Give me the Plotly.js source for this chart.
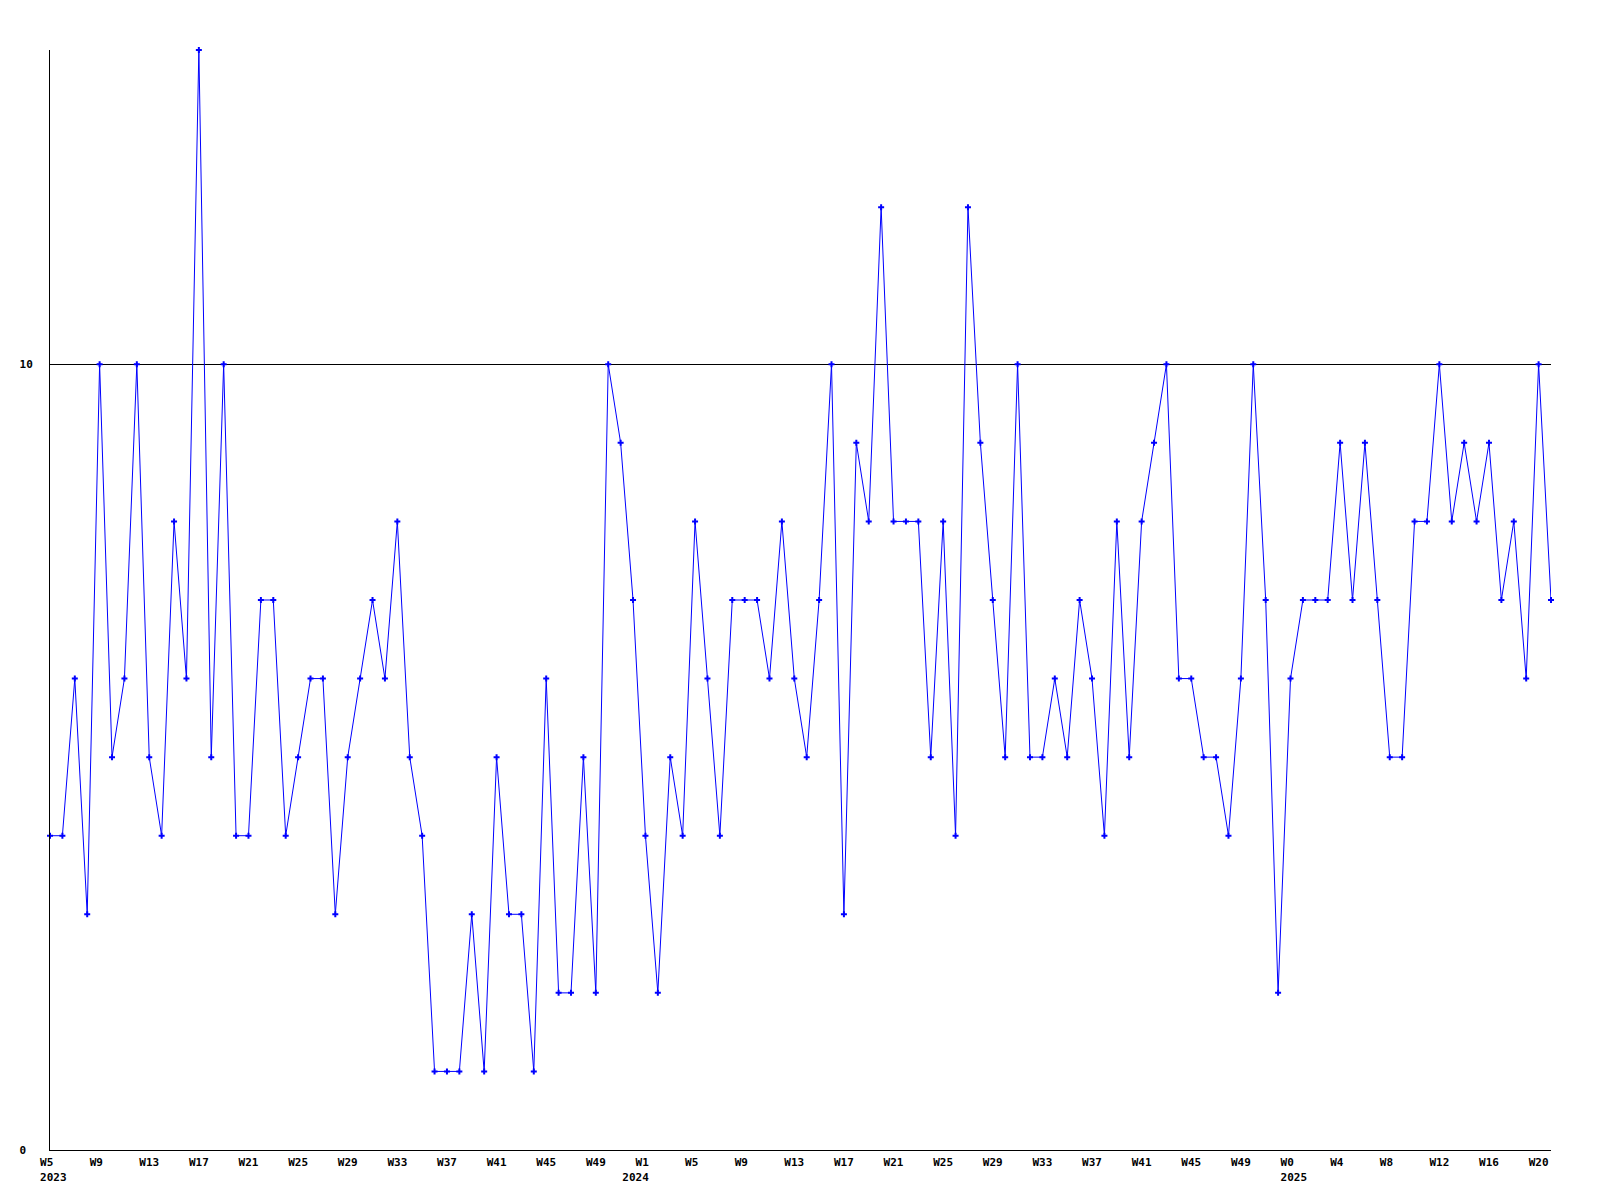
<!DOCTYPE html>
<html>
<head>
<meta charset="utf-8">
<script src="https://cdn.plot.ly/plotly-3.0.1.min.js"></script>
<style>html,body{margin:0;padding:0;background:#fff;}#chart{width:1600px;height:1200px;}</style>
</head>
<body>
<div id="chart"></div>
<script>
// Years and their week numbers
const years = [2023, 2024, 2025];
const weeks2023 = [5,6,7,8,9,10,11,12,13,14,15,16,17,18,19,20,21,22,23,24,25,26,27,28,29,30,31,32,33,34,35,36,37,38,39,40,41,42,43,44,45,46,47,48,49,50,51,52];
const weeks2024 = [1,2,3,4,5,6,7,8,9,10,11,12,13,14,15,16,17,18,19,20,21,22,23,24,25,26,27,28,29,30,31,32,33,34,35,36,37,38,39,40,41,42,43,44,45,46,47,48,49,50,51,52];
const weeks2025 = [0,1,2,3,4,5,6,7,8,9,10,11,12,13,14,15,16,17,18,19,20,21];

// Weekly values
const values2023 = [4,4,6,3,10,5,6,10,5,4, 8,6,14,5,10,4,4,7,7,4, 5,6,6,3,5,6,7,6,8,5, 4,1,1,1,3,1,5,3,3,1, 6,2,2,5,2,10,9,7];
const values2024 = [4,2,5,4,8,6,4,7,7,7, 6,8,6,5,7,10,3,9,8,12, 8,8,8,5,8,4,12,9,7,5, 10,5,5,6,5,7,6,4,8,5, 8,9,10,6,6,5,5,4,6,10, 7,2];
const values2025 = [6,7,7,7,9,7,9,7,5,5, 8,8,10,8,9,8,9,7,8,6, 10,7];

// Year label lines, padded for alignment under the week label
const yearLabelText = {2023: "\u00a02023", 2024: "2024\u00a0\u00a0\u00a0", 2025: "\u00a02025"};
const yTickVals = [0, 10];
const yTickText = ["0\u00a0", "10"];

const weeksByYear = [weeks2023, weeks2024, weeks2025];
const valuesByYear = [values2023, values2024, values2025];

const xs = [], ys = [], tickvals = [], ticktext = [];
let idx = 0;
years.forEach((yr, yi) => {
  weeksByYear[yi].forEach((wk, wi) => {
    const key = yr + "-W" + wk;
    xs.push(key);
    ys.push(valuesByYear[yi][wi]);
    if (idx % 4 === 0) {
      let lab = "W" + wk;
      if (lab.length < 3) lab += "\u00a0";
      if (wi === 0) lab += "<br>" + yearLabelText[yr];
      tickvals.push(key);
      ticktext.push(lab);
    }
    idx++;
  });
});

const font = {family: "DejaVu Sans Mono, monospace", size: 11, color: "#000", weight: "bold"};

const trace = {
  x: xs, y: ys, type: "scatter", mode: "lines+markers",
  cliponaxis: false,
  line: {color: "#0000ff", width: 1},
  marker: {symbol: "cross", size: 5, color: "#0000ff", line: {width: 0}},
  hoverinfo: "x+y"
};

const layout = {
  width: 1600, height: 1200,
  margin: {l: 50, r: 49, t: 50, b: 50},
  paper_bgcolor: "#fff", plot_bgcolor: "#fff",
  showlegend: false,
  font: font,
  xaxis: {
    type: "category",
    range: [0, xs.length - 1],
    tickvals: tickvals, ticktext: ticktext,
    showgrid: false, zeroline: false,
    showline: true, linecolor: "#000", linewidth: 1,
    ticks: "", tickfont: font, ticklabelstandoff: 2
  },
  yaxis: {
    range: [0, 14],
    tickvals: yTickVals, ticktext: yTickText,
    showgrid: true, gridcolor: "#000", gridwidth: 1,
    zeroline: false,
    showline: true, linecolor: "#000", linewidth: 1,
    ticks: "", tickfont: font, ticklabelstandoff: 14
  }
};

Plotly.newPlot("chart", [trace], layout, {displayModeBar: false, staticPlot: true});
</script>
</body>
</html>
